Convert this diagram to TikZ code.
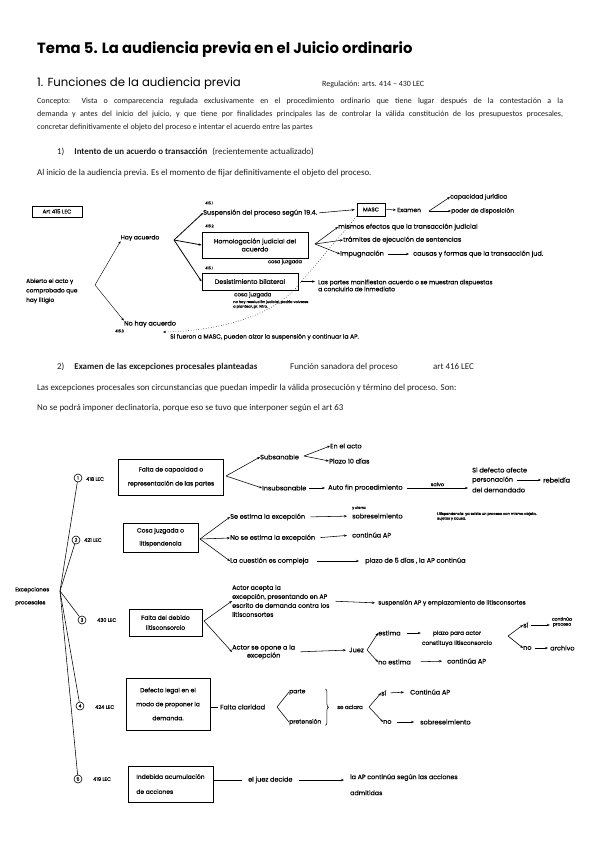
\documentclass[tikz,border=0pt]{standalone}
\usepackage{fontspec}
\setmainfont{Carlito}
\newfontfamily\handfont{Poppins}[FakeBold=0.5]
\newfontfamily\headfont{Poppins}
\usetikzlibrary{arrows.meta,positioning,decorations.pathreplacing,calc}
\definecolor{ink}{HTML}{1A1A1A}

\begin{document}
\begin{tikzpicture}[x=1pt,y=-1pt,
  txt/.style={anchor=west,inner sep=0pt,font=\fontsize{8.9}{10.5}\selectfont,text=ink},
  hw/.style={anchor=west,inner sep=0pt,font=\handfont\fontsize{6.5}{8}\selectfont},
  sm/.style={hw,font=\handfont\fontsize{3.6}{4.6}\selectfont},
  lab/.style={hw,font=\handfont\fontsize{5}{6}\selectfont},
  b/.style={draw,line width=0.9pt,align=center,inner sep=1pt,font=\handfont\fontsize{6.3}{8}\selectfont},
  num/.style={draw,circle,line width=0.6pt,inner sep=0pt,minimum size=8pt,font=\handfont\fontsize{4.5}{5}\selectfont},
  arr/.style={-{Stealth[length=3pt,width=2.4pt]},line width=0.55pt},
  ln/.style={line width=0.55pt}]
\useasboundingbox (0,0) rectangle (599,848);

% cabecera
\node[anchor=west,inner sep=0pt,font=\headfont\bfseries\fontsize{14.8}{16}\selectfont] (title) at (37,50) {Tema 5. La audiencia previa en el Juicio ordinario};
\node[anchor=west,inner sep=0pt,font=\headfont\fontsize{11.7}{13}\selectfont] (sub) at (37,84) {1. Funciones de la audiencia previa};
\node[txt,font=\fontsize{8}{9}\selectfont] (reg) at (322,84) {Regulación: arts. 414 – 430 LEC};
\node[txt,anchor=north west,text width=526pt,align=justify,font=\fontsize{8}{13}\selectfont] (concepto) at (37,98) {Concepto: Vista o comparecencia regulada exclusivamente en el procedimiento ordinario que tiene lugar después de la contestación a la\linebreak demanda y antes del inicio del juicio, y que tiene por finalidades principales las de controlar la válida constitución de los presupuestos procesales,\linebreak concretar definitivamente el objeto del proceso e intentar el acuerdo entre las partes};
\node[txt] (p1) at (57,152) {1)\hspace{10pt}\textbf{Intento de un acuerdo o transacción}\hspace{5pt}(recientemente actualizado)};
\node[txt] (p2) at (37,173) {Al inicio de la audiencia previa. Es el momento de fijar definitivamente el objeto del proceso.};

% esquema 1
\node[b,font=\handfont\fontsize{5.5}{6}\selectfont,minimum width=50pt,minimum height=11pt] (art) at (57,211.5) {Art 415 LEC};
\node[hw,align=left,font=\handfont\fontsize{5.8}{9.5}\selectfont] (abierto) at (26,291) {Abierto el acto y\\comprobado que\\hay litigio};
\coordinate (f0) at (95,285);
\node[hw,anchor=center,font=\handfont\fontsize{6}{7}\selectfont] (hay) at (140,238) {Hay acuerdo};
\node[hw,anchor=center] (noacu) at (150,324) {No hay acuerdo};
\node[sm] (l53) at (115,331) {415.3};
\draw[arr,line width=0.4pt] (f0) -- (hay.south west);
\draw[arr,line width=0.4pt] (f0) -- (noacu.north west);

\coordinate (fh) at (174,240);
\node[hw] (susp) at (203,213) {Suspensión del proceso según 19.4.};
\node[sm] (l1) at (205,203) {415.1};
\node[b,minimum width=106pt,minimum height=26pt] (homo) at (255,245) {Homologación judicial del\\acuerdo};
\node[sm] (l2) at (205,226) {415.2};
\node[hw,anchor=center,font=\handfont\fontsize{5}{6}\selectfont] (cj1) at (285,262) {cosa juzgada};
\node[b,minimum width=96pt,minimum height=17pt] (desist) at (250,281.5) {Desistimiento bilateral};
\node[sm] (l3) at (205,268) {415.1};
\node[hw,font=\handfont\fontsize{5.5}{6}\selectfont] (cj2) at (234,295) {cosa juzgada};
\node[sm,align=left,anchor=north west] (nores) at (233,300) {no hay resolución judicial, podría volverse\\a plantear, pr. Ntro.};
\draw[arr,line width=0.8pt] (fh) -- (susp.west);
\draw[arr,line width=0.8pt] (fh) -- (homo.west);
\draw[arr,line width=0.8pt] (fh) -- (desist.west);

\node[b,line width=0.7pt,font=\handfont\fontsize{5.5}{6}\selectfont,minimum width=28pt,minimum height=13pt] (masc) at (371,209.5) {MASC};
\draw[arr,shorten <=2pt,shorten >=2pt] (susp.east) -- (masc.west);
\node[hw,font=\handfont\fontsize{6}{7}\selectfont] (exam) at (397,210) {Examen};
\draw[arr,shorten <=1pt,shorten >=1pt] (masc.east) -- (exam.west);
\coordinate (fe) at (429,211);
\node[hw,font=\handfont\fontsize{6}{7}\selectfont] (capac) at (450,197) {capacidad jurídica};
\node[hw,font=\handfont\fontsize{6}{7}\selectfont] (poder) at (451,211) {poder de disposición};
\draw[arr] (fe) -- (capac.west);
\draw[arr] (fe) -- (poder.west);

\coordinate (fm) at (315,244);
\node[hw] (mismos) at (338,227) {mismos efectos que la transacción judicial};
\node[hw] (tram) at (343,240) {trámites de ejecución de sentencias};
\node[hw] (impug) at (340,254) {Impugnación};
\node[hw] (causas) at (413,254) {causas y formas que la transacción jud.};
\draw[arr] (fm) -- (mismos.west);
\draw[arr] (fm) -- (tram.west);
\draw[arr] (fm) -- (impug.west);
\draw[arr,shorten <=4pt,shorten >=4pt] (impug.east) -- (causas.west);

\node[hw,align=left,font=\handfont\fontsize{6}{7}\selectfont] (partes) at (318,285.5) {Las partes manifiestan acuerdo o se muestran dispuestas\\a concluirlo de inmediato};
\draw[arr,shorten <=3pt,shorten >=3pt] (desist.east) -- (partes.west |- desist.east);

\node[hw,font=\handfont\fontsize{6}{7}\selectfont] (nota) at (170,337) {Si fueron a MASC, pueden alzar la suspensión y continuar la AP.};
\coordinate (noend) at (163,332);
\draw[arr,dotted] (masc.south west) -- (295,289) .. controls (268,318) and (215,331) .. (noend);

% seccion 2
\node[txt] (s2) at (57,367) {2)\hspace{10pt}\textbf{Examen de las excepciones procesales planteadas}};
\node[txt] (s2b) at (290,367) {Función sanadora del proceso};
\node[txt] (s2c) at (433,367) {art 416 LEC};
\node[txt] (s2d) at (37,388) {Las excepciones procesales son circunstancias que puedan impedir la válida prosecución y término del proceso. Son:};
\node[txt] (s2e) at (37,408) {No se podrá imponer declinatoria, porque eso se tuvo que interponer según el art 63};

% esquema 2
\node[hw,align=left,font=\handfont\fontsize{5.5}{13}\selectfont] (exc) at (15,596.5) {Excepciones\\procesales};
\coordinate (fx) at (60,591);
\node[num] (c1) at (78,478) {1};
\node[num] (c2) at (76,540) {2};
\node[num] (c3) at (82,620) {3};
\node[num] (c4) at (80,706) {4};
\node[num] (c5) at (78,779) {5};
\foreach \c in {c1,c2,c3,c4,c5}
  \draw[ln] (fx) -- (\c);
\node[lab] (a418) at (86,479) {418 LEC};
\node[lab] (a421) at (84,540) {421 LEC};
\node[lab] (a430) at (97,620) {430 LEC};
\node[lab] (a424) at (95,707) {424 LEC};
\node[lab] (a419) at (93,779) {419 LEC};

% fila 1
\node[b,font=\handfont\fontsize{6}{14}\selectfont,minimum width=105pt,minimum height=36pt] (capacidad) at (171,477) {Falta de capacidad o\\representación de las partes};
\coordinate (f1) at (226,476);
\node[hw] (subs) at (260,457) {Subsanable};
\node[hw] (insub) at (262,488) {Insubsanable};
\draw[arr] (f1) -- (subs.west);
\draw[arr] (f1) -- (insub.west);
\coordinate (fs) at (304,456);
\node[hw] (enacto) at (330,446) {En el acto};
\node[hw] (plazo) at (329,461) {Plazo 10 días};
\draw[arr] (fs) -- (enacto.west);
\draw[arr] (fs) -- (plazo.west);
\node[hw] (auto) at (328,488) {Auto fin procedimiento};
\draw[arr,shorten <=3pt,shorten >=3pt] (insub.east) -- (auto.west);
\node[hw] (sd1) at (472,470) {Si defecto afecte};
\node[hw] (sd2) at (472,480) {personación};
\node[hw] (sd3) at (472,490) {del demandado};
\draw[arr,shorten <=4pt,shorten >=4pt] (auto.east) -- node[above,inner sep=1.5pt,font=\handfont\fontsize{5}{6}\selectfont] {salvo} (sd1.west |- auto.east);
\node[hw] (rebel) at (543,480) {rebeldía};
\draw[arr,shorten <=4pt,shorten >=2pt] (sd2.east) -- (rebel.west);

% fila 2
\node[b,font=\handfont\fontsize{6}{13}\selectfont,minimum width=75pt,minimum height=29pt] (cosa) at (160.5,537.5) {Cosa juzgada o\\litispendencia};
\coordinate (f2) at (200,539);
\node[hw] (est) at (230,517) {Se estima la excepción};
\node[hw] (noest) at (230,538) {No se estima la excepción};
\node[hw] (compl) at (230,561) {La cuestión es compleja};
\draw[arr] (f2) -- (est.west);
\draw[arr] (f2) -- (noest.west);
\draw[arr] (f2) -- (compl.west);
\node[hw] (sobre) at (352,516) {sobreseimiento};
\node[sm] (ycierra) at (352,508) {y cierra};
\node[sm,align=left,anchor=north west] (litis) at (437,512) {Litispendencia: ya existe un proceso con mismo objeto,\\sujetos y causa.};
\node[hw] (cont1) at (352,535) {continúa AP};
\node[hw] (plazo5) at (365,561) {plazo de 5 días , la AP continúa};
\draw[arr,shorten <=5pt,shorten >=5pt] (est.east) -- (sobre.west);
\draw[arr,shorten <=5pt,shorten >=5pt] (noest.east) -- (cont1.west);
\draw[arr,shorten <=8pt,shorten >=6pt] (compl.east) -- (plazo5.west);

% fila 3
\node[b,font=\handfont\fontsize{6}{10}\selectfont,minimum width=73pt,minimum height=27pt] (litisc) at (165.5,622.5) {Falta del debido\\litisconsorcio};
\coordinate (f3) at (204,621);
\node[hw,align=left,font=\handfont\fontsize{6.3}{9}\selectfont] (acepta) at (232,601) {Actor acepta la\\excepción, presentando en AP\\escrito de demanda contra los\\litisconsortes};
\node[hw,align=center] (opone) at (232,652) {Actor se opone a la\\excepción};
\draw[arr] (f3) -- (acepta.west);
\draw[arr] (f3) -- (opone.west);
\node[hw,font=\handfont\fontsize{6}{7}\selectfont] (susp2) at (378,603) {suspensión AP y emplazamiento de litisconsortes};
\draw[arr,shorten <=6pt,shorten >=3pt] (acepta.east) -- (susp2.west);
\node[hw] (juez) at (349,650) {Juez};
\draw[arr,shorten <=5pt,shorten >=3pt] (opone.east) -- (juez.west);
\coordinate (fj) at (367,650);
\node[hw] (estima) at (378,633) {estima};
\node[hw] (noestima) at (378,662) {no estima};
\draw[arr] (fj) -- (estima.west);
\draw[arr] (fj) -- (noestima.west);
\node[hw,anchor=center,align=center,font=\handfont\fontsize{5.8}{10}\selectfont] (plazoac) at (457,638.5) {plazo para actor\\constituya litisconsorcio};
\draw[arr,shorten <=6pt,shorten >=1pt] (estima.east) -- (plazoac.west |- estima.east);
\coordinate (fp) at (508,636);
\node[hw] (si1) at (523,625) {sí};
\node[hw] (no1) at (523,648) {no};
\draw[arr] (fp) -- (si1.west);
\draw[arr] (fp) -- (no1.west);
\node[hw,anchor=center,align=center,font=\handfont\fontsize{4.5}{5}\selectfont] (contproc) at (562,622) {continúa\\proceso};
\node[hw] (archivo) at (550,648) {archivo};
\draw[arr,shorten <=3pt,shorten >=2pt] (si1.east) -- (contproc.west |- si1.east);
\draw[arr,shorten <=3pt,shorten >=2pt] (no1.east) -- (archivo.west);
\node[hw] (contap2) at (447,661) {continúa AP};
\draw[arr,shorten <=10pt,shorten >=5pt] (noestima.east) -- (contap2.west);

% fila 4
\node[b,font=\handfont\fontsize{6}{14}\selectfont,minimum width=84pt,minimum height=52pt] (defecto) at (168,704) {Defecto legal en el\\modo de proponer la\\demanda.};
\node[hw] (falta) at (220,707) {Falta claridad};
\draw[ln,shorten >=2pt] (falta.west -| defecto.east) -- (falta.west);
\coordinate (fc) at (277,707);
\node[hw,font=\handfont\fontsize{6}{7}\selectfont] (parte) at (289,692) {parte};
\node[hw,font=\handfont\fontsize{6}{7}\selectfont] (pret) at (289,722) {pretensión};
\draw[ln] (fc) -- (parte.west);
\draw[ln] (fc) -- (pret.west);
\draw[ln,decorate,decoration={brace,amplitude=3pt}] ([xshift=4pt]pret.east |- parte.north) -- ([xshift=4pt]pret.south east);
\node[hw,font=\handfont\fontsize{5.5}{6}\selectfont] (aclara) at (337,707) {se aclara};
\coordinate (fa) at (369,707);
\node[hw] (si2) at (381,693) {sí};
\node[hw] (no2) at (383,722) {no};
\draw[arr] (fa) -- (si2.west);
\draw[arr] (fa) -- (no2.west);
\node[hw] (contap3) at (410,692) {Continúa AP};
\node[hw] (sobre2) at (420,722) {sobreseimiento};
\draw[arr,shorten <=4pt,shorten >=6pt] (si2.east) -- (contap3.west);
\draw[arr,shorten <=5pt,shorten >=6pt] (no2.east) -- (sobre2.west);

% fila 5
\node[b,align=left,font=\handfont\fontsize{6}{15}\selectfont,minimum width=85pt,minimum height=36pt] (acum) at (170.5,784) {Indebida acumulación\\de acciones};
\node[hw] (decide) at (248,780) {el juez decide};
\draw[ln,shorten >=6pt] (acum.east) -- (decide.west -| acum.east) -- (decide.west);
\node[hw,align=left,anchor=north west,font=\handfont\fontsize{6.3}{16}\selectfont] (segun) at (350,774) {la AP continúa según las acciones\\admitidas};
\draw[arr,shorten <=6pt,shorten >=6pt] (decide.east) -- (segun.west |- decide.east);
\end{tikzpicture}
\end{document}
